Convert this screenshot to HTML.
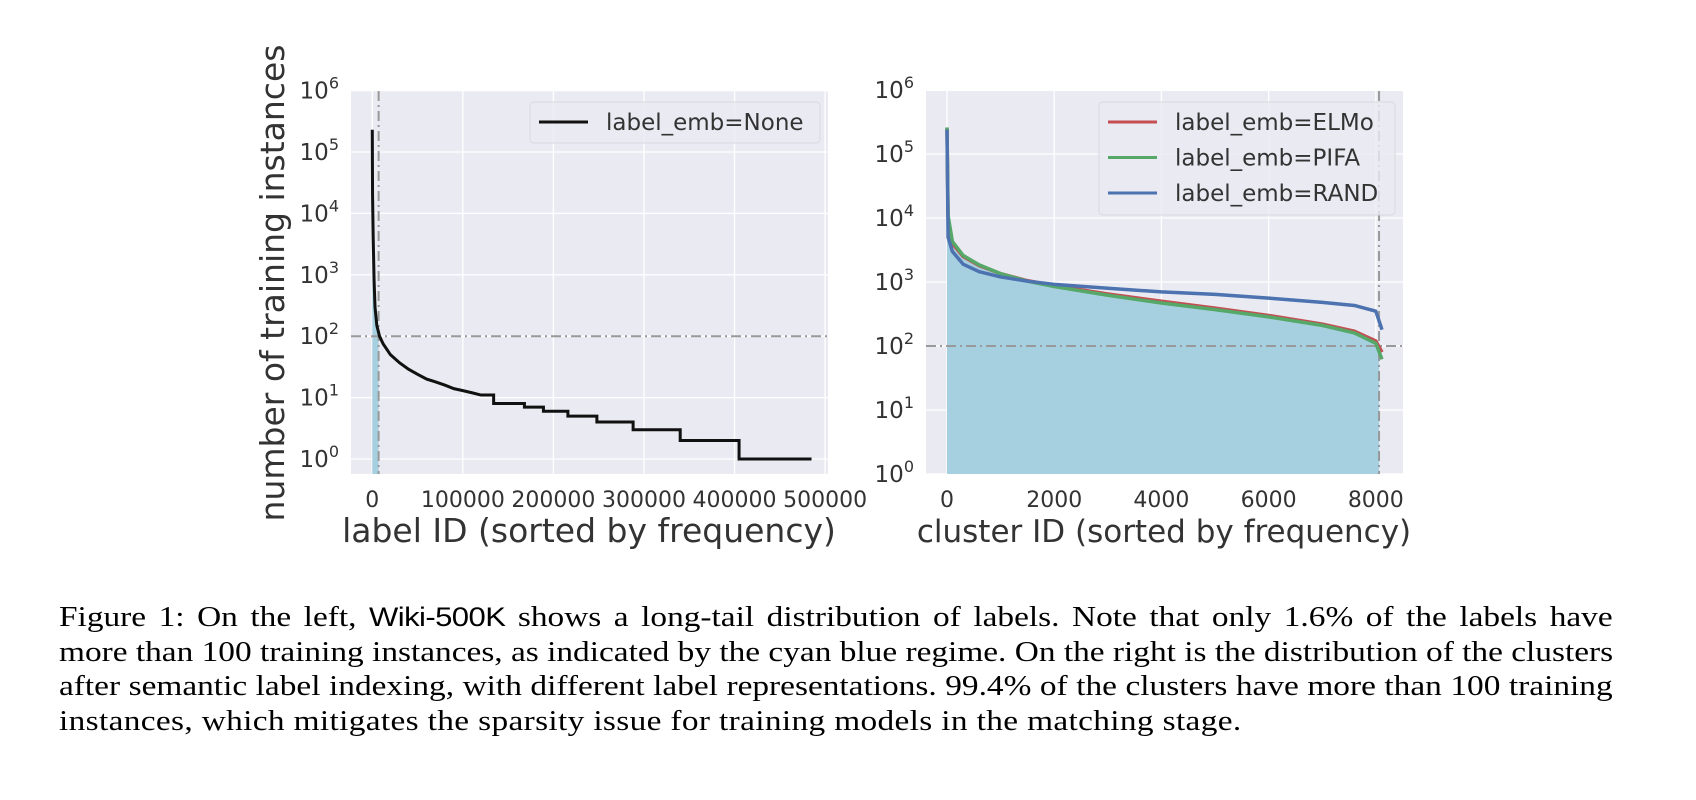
<!DOCTYPE html>
<html><head><meta charset="utf-8">
<style>
body{margin:0;background:#fff;width:1696px;height:800px;overflow:hidden;position:relative}
svg{position:absolute;left:0;top:0}
.cap{position:absolute;left:59px;width:1351px;font-family:"Liberation Serif",serif;font-size:29px;color:#000;text-align:justify;text-align-last:justify;white-space:nowrap;line-height:35px;transform:scaleX(1.15);transform-origin:0 0}
.sans{font-family:"Liberation Sans",sans-serif;font-size:27px;letter-spacing:-0.5px}
</style></head>
<body>
<svg id="chart" width="1696" height="800" xmlns="http://www.w3.org/2000/svg" font-family="'DejaVu Sans',sans-serif"></svg>
<div class="cap" style="top:600px">Figure 1: On the left, <span class="sans">Wiki-500K</span> shows a long-tail distribution of labels. Note that only 1.6% of the labels have</div>
<div class="cap" style="top:635px">more than 100 training instances, as indicated by the cyan blue regime. On the right is the distribution of the clusters</div>
<div class="cap" style="top:669px">after semantic label indexing, with different label representations. 99.4% of the clusters have more than 100 training</div>
<div class="cap" style="top:704px;text-align-last:left;letter-spacing:0.3px">instances, which mitigates the sparsity issue for training models in the matching stage.</div>
<script>
// Left chart data (label ID, count)
const leftX = [0,300,1000,2000,3000,5000,8000,12000,20000,30000,40000,50000,60000,70000,80000,90000,100000,110000,120000,134000,168000,189000,216000,248000,288000,340000,405000,485000];
const leftY = [230000,20000,4000,800,300,150,100,75,50,37,29,24,20,18,16,14,13,12,11,8,7,6,5,4,3,2,1,1];
const leftXTicks = [0,100000,200000,300000,400000,500000];
const yTickExp = [0,1,2,3,4,5,6];
const leftCutX = 7000;
// Right chart data (cluster ID, count)
const rightX = [0,20,100,300,600,1000,1500,2000,3000,4000,5000,6000,7000,7600,8000,8115];
const elmoY = [250000,10000,4000,2500,1800,1350,1050,880,650,500,390,300,220,170,120,80];
const pifaY = [260000,11000,4300,2600,1850,1350,1030,850,620,470,370,285,210,160,110,62];
const randY = [240000,5000,3000,1900,1450,1200,1030,920,800,700,640,560,480,430,350,180];
const rightXTicks = [0,2000,4000,6000,8000];
const rightCutX = 8060;
const threshold = 100;

const NS="http://www.w3.org/2000/svg";
const svg=document.getElementById('chart');
function mk(tag,attrs,parent){const e=document.createElementNS(NS,tag);for(const k in attrs)e.setAttribute(k,attrs[k]);(parent||svg).appendChild(e);return e;}

function axes(cfg){
  const g=mk('g',{});
  
  
  const X=v=>cfg.x0+(v-cfg.xmin)/(cfg.xmax-cfg.xmin)*(cfg.x1-cfg.x0);
  const Y=v=>cfg.yb0-Math.log10(v)*cfg.dec;
  const bg=mk('rect',{x:cfg.x0,y:cfg.top,width:cfg.x1-cfg.x0,height:cfg.bot-cfg.top,fill:'#eaeaf2'},g);
  
  
  cfg.xt.forEach(t=>{
    mk('line',{x1:X(t),x2:X(t),y1:cfg.top,y2:cfg.bot,stroke:'#fff','stroke-width':1.3},g);
    const tx=mk('text',{x:X(t),y:507,'text-anchor':'middle','font-size':22,fill:'#333'},g);
    tx.textContent=t;
    
    
  });
  yTickExp.forEach(e=>{
    const y=Y(Math.pow(10,e));
    mk('line',{x1:cfg.x0,x2:cfg.x1,y1:y,y2:y,stroke:'#fff','stroke-width':1.3},g);
    const tx=mk('text',{x:cfg.x0-12,y:y+8,'text-anchor':'end','font-size':23,fill:'#333'},g);
    tx.innerHTML='10<tspan dy="-10" font-size="16">'+e+'</tspan>';
    
    
  });
  return {g,X,Y};
}
function pathFrom(xs,ys,X,Y,step){
  let d='';
  for(let i=0;i<xs.length;i++){
    const x=X(xs[i]),y=Y(ys[i]);
    if(i===0)d+='M'+x+','+y;
    else if(step&&i>=19)d+='L'+x+','+Y(ys[i-1])+'L'+x+','+y;
    else d+='L'+x+','+y;
  }
  return d;
}
function interp(xs,ys,x){
  for(let i=1;i<xs.length;i++){if(x<=xs[i]){const t=(x-xs[i-1])/(xs[i]-xs[i-1]);return Math.pow(10,Math.log10(ys[i-1])+t*(Math.log10(ys[i])-Math.log10(ys[i-1])));}}
  return ys[ys.length-1];
}
function fillUnder(xs,ys,cut,X,Y,bot,g){
  let d='M'+X(0)+','+bot;
  for(let i=0;i<xs.length&&xs[i]<=cut;i++)d+='L'+X(xs[i])+','+Y(ys[i]);
  d+='L'+X(cut)+','+Y(interp(xs,ys,cut))+'L'+X(cut)+','+bot+'Z';
  const p=mk('path',{d,fill:'#a6d0e0'},g);
  
  
}
function refLines(cut,X,Y,cfg,g){
  const h=mk('line',{x1:cfg.x0,x2:cfg.x1,y1:Y(threshold),y2:Y(threshold),stroke:'#999','stroke-width':2,'stroke-dasharray':'10,4,2,4'},g);
  
  
  const v=mk('line',{x1:X(cut),x2:X(cut),y1:cfg.top,y2:cfg.bot,stroke:'#999','stroke-width':2,'stroke-dasharray':'10,4,2,4'},g);
  
  
}

// Left
const L={name:'left-chart',x0:351,x1:828,top:91,bot:474,xmin:-23500,xmax:503200,yb0:459,dec:61.4,xt:leftXTicks};
const la=axes(L);
fillUnder(leftX,leftY,leftCutX,la.X,la.Y,L.bot,la.g);
refLines(leftCutX,la.X,la.Y,L,la.g);
const lp=mk('path',{d:pathFrom(leftX,leftY,la.X,la.Y,true),fill:'none',stroke:'#111','stroke-width':3},la.g);



// Right
const R={name:'right-chart',x0:926,x1:1403,top:91,bot:474,xmin:-392,xmax:8507,yb0:474,dec:64,xt:rightXTicks};
const ra=axes(R);
fillUnder(rightX,elmoY,rightCutX,ra.X,ra.Y,R.bot,ra.g);
refLines(rightCutX,ra.X,ra.Y,R,ra.g);
[['series-elmo',elmoY,'#c44e52'],['series-pifa',pifaY,'#55a868'],['series-rand',randY,'#4c72b0']].forEach(s=>{
  const p=mk('path',{d:pathFrom(rightX,s[1],ra.X,ra.Y,false),fill:'none',stroke:s[2],'stroke-width':3.5,'stroke-linejoin':'round'},ra.g);
  
  
});

// Legends
function legend(x,y,w,h,items,name){
  const g=mk('g',{});
  
  
  mk('rect',{x,y,width:w,height:h,rx:4,fill:'#eaeaf2','fill-opacity':0.8,stroke:'#d8d8de'},g);
  items.forEach((it,i)=>{
    const cy=y+20+i*35.5;
    mk('line',{x1:x+9,x2:x+58,y1:cy,y2:cy,stroke:it[1],'stroke-width':3},g);
    const t=mk('text',{x:x+76,y:cy+8,'font-size':23,fill:'#333'},g);
    t.textContent=it[0];
    
    
  });
}
legend(530,102,290,41,[['label_emb=None','#111']],'left-legend');
legend(1099,102,296,113,[['label_emb=ELMo','#c44e52'],['label_emb=PIFA','#55a868'],['label_emb=RAND','#4c72b0']],'right-legend');

// Axis titles
function title(x,y,txt,name,rot,fs){
  const t=mk('text',{x,y,'text-anchor':'middle','font-size':fs,fill:'#333'});
  if(rot)t.setAttribute('transform','rotate(-90 '+x+' '+y+')');
  t.textContent=txt;
  
  
}
title(589,542,'label ID (sorted by frequency)','left-x-axis-title',false,33);
title(1164,542,'cluster ID (sorted by frequency)','right-x-axis-title',false,31);
title(284,283,'number of training instances','y-axis-title',true,33);
</script>
</body></html>
